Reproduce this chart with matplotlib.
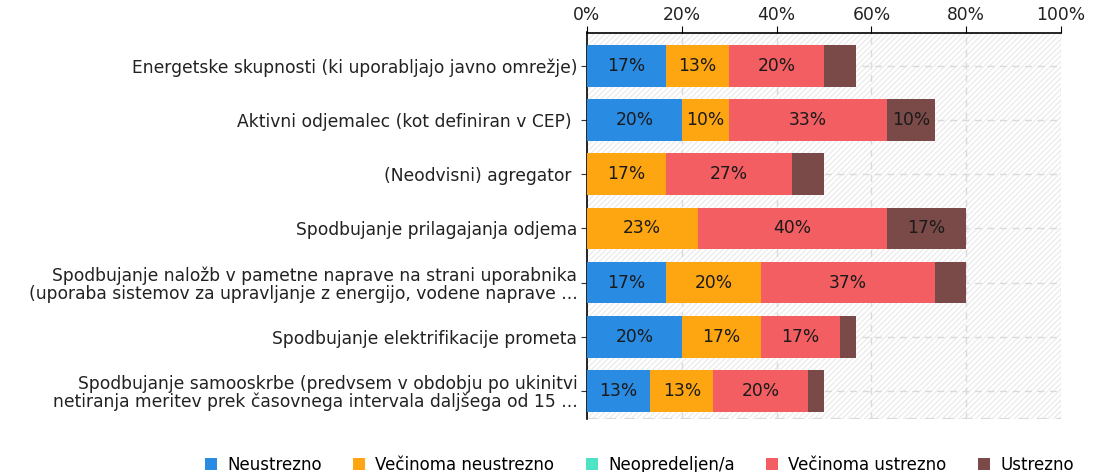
import matplotlib
matplotlib.use('Agg')
import matplotlib.pyplot as plt
from matplotlib.patches import Rectangle, Patch
import numpy as np

categories = [
    'Energetske skupnosti (ki uporabljajo javno omrežje)',
    'Aktivni odjemalec (kot definiran v CEP) ',
    '(Neodvisni) agregator ',
    'Spodbujanje prilagajanja odjema',
    'Spodbujanje naložb v pametne naprave na strani uporabnika\n(uporaba sistemov za upravljanje z energijo, vodene naprave ...',
    'Spodbujanje elektrifikacije prometa',
    'Spodbujanje samooskrbe (predvsem v obdobju po ukinitvi\nnetiranja meritev prek časovnega intervala daljšega od 15 ...',
]
series_names = ['Neustrezno', 'Večinoma neustrezno', 'Neopredeljen/a', 'Večinoma ustrezno', 'Ustrezno']
# share of respondents in %, one list per answer
neustrezno = [16.67, 20.0, 0.0, 0.0, 16.67, 20.0, 13.33]
vecinoma_neustrezno = [13.33, 10.0, 16.67, 23.33, 20.0, 16.67, 13.33]
neopredeljen = [0.0, 0.0, 0.0, 0.0, 0.0, 0.0, 0.0]
vecinoma_ustrezno = [20.0, 33.33, 26.67, 40.0, 36.67, 16.67, 20.0]
ustrezno = [6.67, 10.0, 6.67, 16.67, 6.67, 3.33, 3.33]
colors = ['#2a8be3', '#fea611', '#4ee3c3', '#f25e61', '#7a4a48']
ticks = [0, 20, 40, 60, 80, 100]

data = [neustrezno, vecinoma_neustrezno, neopredeljen, vecinoma_ustrezno, ustrezno]
FS = 12.3

fig = plt.figure(figsize=(10.95, 4.72), dpi=100)
ax = fig.add_axes([587/1095, 1-419/472, 474/1095, 386.5/472])

ytop, ybot = -0.62, 6.52
# hatched background
ax.add_patch(Rectangle((0, ytop), 100, ybot-ytop, facecolor='white', edgecolor='#ececec',
                       hatch='//////', linewidth=0, zorder=0))
y = np.arange(len(categories))
for xv in ticks[1:]:
    ax.axvline(xv, color='#dadada', linestyle=(0, (5, 4)), linewidth=1, zorder=1)
for yv in y:
    ax.axhline(yv, color='#dadada', linestyle=(0, (5, 4)), linewidth=1, zorder=1)
ax.axhline(ybot, color='#dadada', linestyle=(0, (5, 4)), linewidth=1.5, zorder=1)

left = np.zeros(len(categories))
for name, vals, c in zip(series_names, data, colors):
    vals = np.array(vals)
    ax.barh(y, vals, left=left, height=0.77, color=c, edgecolor='none', zorder=3, label=name)
    for yi, (l, v) in enumerate(zip(left, vals)):
        if v >= 9.5:
            ax.text(l + v/2, yi, '%d%%' % round(v), ha='center', va='center',
                    fontsize=FS, color='#1a1a1a', zorder=4)
    left = left + vals

ax.set_xlim(0, 100)
ax.set_ylim(ybot, ytop)
ax.set_yticks(y)
ax.set_yticklabels(categories, fontsize=FS, linespacing=1.0, color='#222222')
ax.xaxis.tick_top()
ax.set_xticks(ticks)
ax.set_xticklabels(['%d%%' % t for t in ticks], fontsize=FS, color='#222222')
ax.tick_params(axis='x', length=5, pad=1, color='black')
ax.tick_params(axis='y', length=4, pad=3, color='#333333')
for s in ['right', 'bottom']:
    ax.spines[s].set_visible(False)
ax.spines['top'].set_color('black')
ax.spines['left'].set_color('black')
ax.spines['top'].set_linewidth(1.2)
ax.spines['left'].set_linewidth(1.2)

handles = [Patch(facecolor=c, edgecolor='none') for c in colors]
fig.legend(handles, series_names, loc='center left', bbox_to_anchor=(205/1095, 1-465/472),
           ncol=5, frameon=False, fontsize=12, handlelength=0.72, handleheight=0.72,
           handletextpad=0.6, columnspacing=1.9, borderpad=0, borderaxespad=0)

fig.savefig('out.png', dpi=100)
